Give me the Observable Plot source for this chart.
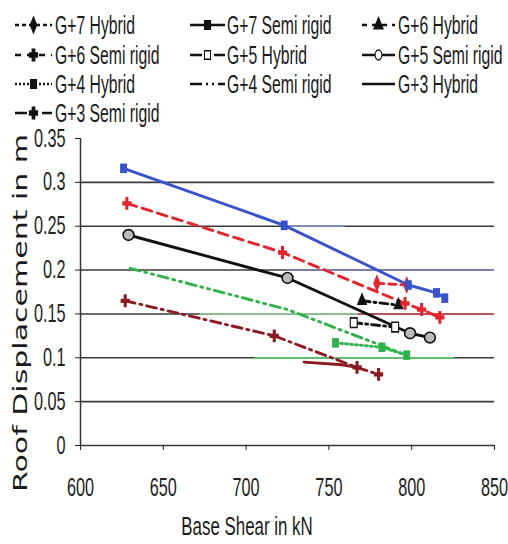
<!DOCTYPE html>
<html><head><meta charset="utf-8">
<script src="https://cdn.jsdelivr.net/npm/d3@7"></script>
<script src="https://cdn.jsdelivr.net/npm/@observablehq/plot@0.6"></script>
<style>
html,body{margin:0;padding:0;background:#fff;overflow:hidden;}
svg{display:block;}
</style></head><body>
<div id="chart"></div>
<script>
// ---- data ----
const seriesNames = ["G+7 Hybrid","G+7 Semi rigid","G+6 Hybrid","G+6 Semi rigid","G+5 Hybrid","G+5 Semi rigid","G+4 Hybrid","G+4 Semi rigid","G+3 Hybrid","G+3 Semi rigid"];
const xTicks = [600, 650, 700, 750, 800, 850];
const yTicks = [0, 0.05, 0.1, 0.15, 0.2, 0.25, 0.3, 0.35];
const yTickLabels = ["0", "0.05", "0.1", "0.15", "0.2", "0.25", "0.3", "0.35"];
const gridValues = [0, 0.05, 0.1, 0.15, 0.2, 0.25, 0.3];

const g7HybridShear = [779, 797];            const g7HybridDisp = [0.185, 0.183];
const g7SemiShear   = [626, 723, 798, 815, 820]; const g7SemiDisp = [0.316, 0.251, 0.183, 0.174, 0.168];
const g6HybridShear = [770, 792];            const g6HybridDisp = [0.165, 0.160];
const g6SemiShear   = [628, 722, 796, 806, 817]; const g6SemiDisp = [0.276, 0.220, 0.162, 0.155, 0.146];
const g5HybridShear = [765, 790];            const g5HybridDisp = [0.140, 0.135];
const g5SemiShear   = [629, 725, 799, 811];  const g5SemiDisp = [0.240, 0.191, 0.128, 0.123];
const g4HybridShear = [754, 782, 797];       const g4HybridDisp = [0.117, 0.112, 0.103];
const g4SemiShear   = [630, 725, 797];       const g4SemiDisp = [0.202, 0.155, 0.103];
const g3HybridShear = [735, 758, 767];       const g3HybridDisp = [0.095, 0.092, 0.089];
const g3SemiShear   = [627, 717, 767, 780];  const g3SemiDisp = [0.165, 0.125, 0.089, 0.081];

// tinted stretches of gridlines seen in the scan
const tintLevel = [0.25, 0.2, 0.15, 0.15, 0.1];
const tintFrom  = [722, 725, 672, 768, 705];
const tintTo    = [760, 850, 768, 850, 826];
const tintColor = ["#7d86bf", "#7c80bd", "#8fc98f", "#c0505a", "#5cc06a"];

// ---- styles ----
const styles = [
  {stroke:"#e3262e", dash:"7,5", symbol:"diamond", fill:"#e3262e", legDash:"4,3"},
  {stroke:"#3a52c9", dash:null, symbol:"square", fill:"#3a52c9", legDash:null},
  {stroke:"#111111", dash:"8,4,2,4", symbol:"triangle", fill:"#111111", legDash:"5,5"},
  {stroke:"#e3262e", dash:"10,6", symbol:"cross", fill:"#e3262e", legDash:"6,6"},
  {stroke:"#111111", dash:"8,4,2,4", symbol:"square", fill:"#ffffff", mstroke:"#111111", legDash:"12,6,2,4"},
  {stroke:"#111111", dash:null, symbol:"circle", fill:"#bbbbbb", mstroke:"#111111", legDash:null},
  {stroke:"#2fb24c", dash:"2,3", symbol:"square", fill:"#2fb24c", legDash:"2,2"},
  {stroke:"#2fb24c", dash:"10,5,2,5,2,5", symbol:null, legDash:"12,4,2,4,2,4"},
  {stroke:"#8b1a22", dash:null, symbol:null, legDash:null},
  {stroke:"#8b1a22", dash:"10,5,2,5", symbol:"cross", fill:"#8b1a22", legDash:"12,5,5,5"}
];

const seriesXY = [
  [g7HybridShear, g7HybridDisp], [g7SemiShear, g7SemiDisp],
  [g6HybridShear, g6HybridDisp], [g6SemiShear, g6SemiDisp],
  [g5HybridShear, g5HybridDisp], [g5SemiShear, g5SemiDisp],
  [g4HybridShear, g4HybridDisp], [g4SemiShear, g4SemiDisp],
  [g3HybridShear, g3HybridDisp], [g3SemiShear, g3SemiDisp]
];
const tables = seriesXY.map(([xs, ys], i) => xs.map((x, j) => ({series: seriesNames[i], shear: x, disp: ys[j]})));
const tints = tintLevel.map((v, i) => ({v, a: tintFrom[i], b: tintTo[i], c: tintColor[i]}));

// ---- legend (above the plot) ----
const SXL = 0.63;
const legW = 508, legH = 122;
const cols = [{x0:15, x1:52, tx:55}, {x0:190, x1:225, tx:227}, {x0:362, x1:395, tx:398}];
const rowsY = [25, 55, 84, 113];
const leg = d3.create("svg").attr("width", legW).attr("height", legH).style("overflow","visible");
seriesNames.forEach((name, i) => {
  const c = cols[i % 3], ry = rowsY[Math.floor(i / 3)], st = styles[i];
  const g = leg.append("g");
  g.append("line").attr("x1", c.x0).attr("x2", c.x1).attr("y1", ry).attr("y2", ry)
    .attr("stroke", "#111").attr("stroke-width", 2.6).attr("stroke-dasharray", st.legDash);
  if (st.symbol) {
    const typeMap = {diamond: d3.symbolDiamond, square: d3.symbolSquare, triangle: d3.symbolTriangle, cross: d3.symbolCross, circle: d3.symbolCircle};
    g.append("path").attr("d", d3.symbol(typeMap[st.symbol], 75)())
      .attr("transform", `translate(${(c.x0 + c.x1) / 2},${ry}) scale(0.7,1)`)
      .attr("fill", st.fill === "#ffffff" || st.fill === "#bbbbbb" ? "#fff" : "#111")
      .attr("stroke", "#111").attr("stroke-width", 1.5);
  }
  g.append("text").attr("transform", `translate(${c.tx},${ry}) scale(${SXL},1)`)
    .attr("dy", "0.35em").attr("font-family", "'Liberation Sans', Arial, sans-serif")
    .attr("font-size", 25).attr("fill", "#1a1a1a").text(name);
});
document.getElementById("chart").appendChild(leg.node());

// ---- plot ----
const lineMarks = tables.map((t, i) => Plot.line(t, {x: "shear", y: "disp", stroke: styles[i].stroke, strokeWidth: 2.9, strokeDasharray: styles[i].dash || undefined}));
const dotMarks = tables.map((t, i) => styles[i].symbol ? Plot.dot(t, {x: "shear", y: "disp", symbol: styles[i].symbol, r: 5.4, fill: styles[i].fill, stroke: styles[i].mstroke || "none", strokeWidth: 1.6}) : null).filter(Boolean);

const plot = Plot.plot({
  width: 508, height: 422,
  marginLeft: 80, marginRight: 14, marginTop: 16, marginBottom: 99,
  x: {domain: [600, 850]},
  y: {domain: [0, 0.35]},
  color: {type: "identity"},
  style: {fontFamily: "'Liberation Sans', Arial, sans-serif", fontSize: "25px", color: "#222", background: "transparent", overflow: "visible"},
  marks: [
    Plot.ruleY(gridValues, {stroke: "#3a3a3a", strokeWidth: 1.6}),
    Plot.ruleY(tints, {y: "v", x1: "a", x2: "b", stroke: "c", strokeWidth: 1.8}),
    Plot.ruleX([600], {stroke: "#333", strokeWidth: 1.5}),
    Plot.axisX({ticks: xTicks, tickSize: 5, tickPadding: 28, label: null, tickFormat: d => String(d)}),
    Plot.axisY({ticks: yTicks, tickSize: 5, tickPadding: 10, label: null, tickFormat: d => yTickLabels[yTicks.indexOf(d)]}),
    ...lineMarks,
    ...dotMarks
  ]
});

// condense text horizontally like the scanned original
const SX = 0.65;
plot.querySelectorAll('g[aria-label$="tick label"] text').forEach(t => {
  const tr = t.getAttribute("transform") || "";
  if (tr.includes("rotate(")) t.setAttribute("transform", tr.replace("rotate(", `scale(${SX},1) rotate(`));
  else t.setAttribute("transform", tr + ` scale(${SX},1)`);
});
plot.querySelectorAll('g[aria-label="dot"] path').forEach(p => {
  const tr = p.getAttribute("transform") || "";
  p.setAttribute("transform", tr + " scale(0.72,1)");
});

// axis titles
const svg = d3.select(plot);
svg.append("text").attr("transform", `translate(247,404) scale(${SX},1)`)
  .attr("text-anchor", "middle").attr("dy", "0.35em")
  .attr("font-family", "'Liberation Sans', Arial, sans-serif").attr("font-size", 26).attr("fill", "#1a1a1a")
  .text("Base Shear in kN");
svg.append("text").attr("transform", `translate(20,191) scale(${SX},1) rotate(-90)`)
  .attr("text-anchor", "middle").attr("dy", "0.35em")
  .attr("font-family", "'DejaVu Sans', Verdana, sans-serif").attr("font-size", 30).attr("fill", "#1a1a1a")
  .text("Roof Displacement in m");

document.getElementById("chart").appendChild(plot);
</script>
</body></html>
